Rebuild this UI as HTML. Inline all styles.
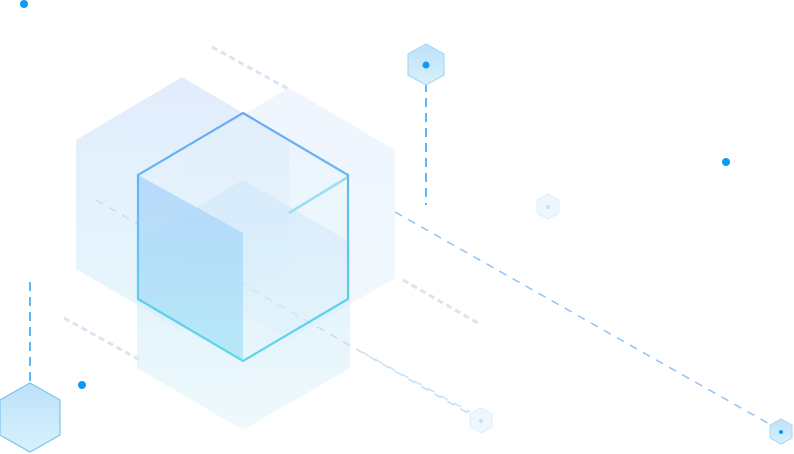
<!DOCTYPE html>
<html><head><meta charset="utf-8"><style>html,body{margin:0;padding:0;background:#fff;width:794px;height:454px;overflow:hidden}</style></head>
<body>
<svg width="794" height="454" viewBox="0 0 794 454" xmlns="http://www.w3.org/2000/svg">
<defs>
<linearGradient id="gA" x1="0" y1="0" x2="0" y2="1"><stop offset="0" stop-color="#dfeafc"/><stop offset="1" stop-color="#e4f6fb"/></linearGradient>
<linearGradient id="gB" x1="0" y1="0" x2="0" y2="1"><stop offset="0" stop-color="#eef5fe"/><stop offset="1" stop-color="#f0f8fd"/></linearGradient>
<linearGradient id="gC" x1="0" y1="0" x2="0" y2="1"><stop offset="0" stop-color="#c3e0fa"/><stop offset="0.5" stop-color="#d4ecf9"/><stop offset="1" stop-color="#e2f6fb"/></linearGradient>
<linearGradient id="gL" x1="0" y1="0" x2="0" y2="1"><stop offset="0" stop-color="#a9d2fb"/><stop offset="1" stop-color="#a6e4f5"/></linearGradient>
<linearGradient id="gS" x1="0" y1="0" x2="0" y2="1"><stop offset="0" stop-color="#6aaaf5"/><stop offset="1" stop-color="#5ad8ec"/></linearGradient>
<linearGradient id="gH" x1="0" y1="0" x2="0" y2="1"><stop offset="0" stop-color="#bfe0fb"/><stop offset="1" stop-color="#d6f2fb"/></linearGradient>
</defs>
<g fill="none" stroke-linecap="butt">
<line x1="212" y1="47" x2="290" y2="90" stroke="#dde3f0" stroke-width="3" stroke-dasharray="6 4"/>
<line x1="403" y1="280" x2="478" y2="323" stroke="#dde3f0" stroke-width="3" stroke-dasharray="6 4"/>
<line x1="64" y1="318" x2="140" y2="360" stroke="#dde3f0" stroke-width="3" stroke-dasharray="6 4"/>
<line x1="395" y1="212" x2="780" y2="430" stroke="#92c3f6" stroke-width="1.5" stroke-dasharray="8 7"/>
<line x1="362" y1="352" x2="470" y2="412" stroke="#c8e2f8" stroke-width="1.5" stroke-dasharray="8 7"/>
<line x1="426" y1="68" x2="426" y2="205" stroke="#2a9df0" stroke-width="1.5" stroke-dasharray="9 6"/>
<line x1="30" y1="282" x2="30" y2="415" stroke="#2a9df0" stroke-width="1.5" stroke-dasharray="9 6"/>
</g>
<polygon points="289,88 395,150 395,278 289,340 183,278 183,150" fill="url(#gB)" opacity="0.95"/>
<polygon points="182,77 289,140 289,269 182,331 76,269 76,140" fill="url(#gA)" opacity="0.9"/>
<polygon points="243,180 350,242 350,368 243,430 137,368 137,242" fill="url(#gC)" opacity="0.6"/>
<line x1="96" y1="200" x2="480" y2="420" stroke="#bfe0f7" stroke-width="1.5" stroke-dasharray="8 7"/>
<polygon points="243,113 348,175 348,299 243,361 138,299 138,175" fill="#e6f3fd" opacity="0.35"/>
<polygon points="138,175 243,233 243,361 138,299" fill="url(#gL)" opacity="0.75"/>
<line x1="289" y1="213" x2="348" y2="177" stroke="#9edcf5" stroke-width="2.5"/>
<polygon points="243,113 348,175 348,299 243,361 138,299 138,175" fill="none" stroke="url(#gS)" stroke-width="2.2"/>
<polygon points="426,44 444,54 444,75 426,85 408,75 408,54" fill="url(#gH)" stroke="#a8d8f5" stroke-width="1.2"/>
<polygon points="30,383 60,400 60,435 30,452 0,435 0,400" fill="url(#gH)" stroke="#7ac6f0" stroke-width="1.2"/>
<polygon points="548,194 559,200 559,213 548,219 537,213 537,200" fill="#eef7fd" stroke="#dcf0fb" stroke-width="1"/>
<polygon points="481,408 492,414 492,427 481,433 470,427 470,414" fill="#eef7fd" stroke="#dcf0fb" stroke-width="1"/>
<polygon points="781,419 792,425 792,438 781,444 770,438 770,425" fill="url(#gH)" stroke="#a8d8f5" stroke-width="1"/>
<g fill="#0a9cf5">
<circle cx="24" cy="4" r="4"/>
<circle cx="726" cy="162" r="4"/>
<circle cx="82" cy="385" r="4"/>
<circle cx="426" cy="65" r="3.5"/>
<circle cx="781" cy="432" r="2"/>
<circle cx="548" cy="207" r="2" fill="#bfe4f7"/>
<circle cx="481" cy="421" r="2" fill="#bfe4f7"/>
</g>
</svg>
</body></html>
